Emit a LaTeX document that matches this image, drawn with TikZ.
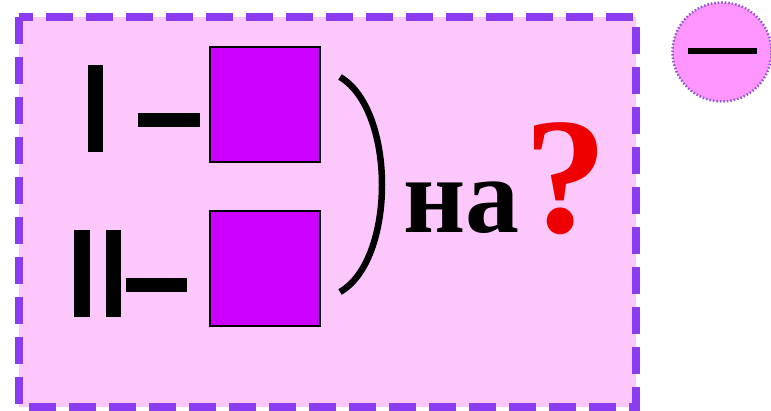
\documentclass[tikz,border=0pt]{standalone}
\usepackage{fontspec}
\setmainfont{Liberation Serif}
\definecolor{boxfill}{RGB}{252,200,252}
\definecolor{dashcol}{RGB}{140,60,240}
\definecolor{sqfill}{RGB}{204,0,255}
\definecolor{circfill}{RGB}{255,150,255}
\definecolor{circline}{RGB}{140,90,200}
\definecolor{qred}{RGB}{238,0,0}
\tikzset{
  sqbox/.style={draw=black,line width=2pt,fill=sqfill},
  bar/.style={fill=black},
}
\begin{document}
\begin{tikzpicture}[x=1pt,y=-1pt]
\useasboundingbox (0,0) rectangle (771,411);
% outer dashed frame
\draw[fill=boxfill,draw=dashcol,line width=8pt,dash pattern=on 27pt off 13pt] (19,17) rectangle (636,407);
% squares
\node[sqbox,minimum width=110pt,minimum height=115pt,inner sep=0pt,anchor=north west] (sq1) at (209,46) {};
\node[sqbox,minimum width=110pt,minimum height=115pt,inner sep=0pt,anchor=north west] (sq2) at (209,210) {};
% Roman I with dash
\fill[bar] (88,65) rectangle (103,152);
\fill[bar] (138,113) rectangle (200,127);
% Roman II with dash
\fill[bar] (74,230) rectangle (90,317);
\fill[bar] (106,230) rectangle (121,317);
\fill[bar] (126,278) rectangle (187,292);
% parenthesis
\coordinate (pa) at (340,77);
\coordinate (pb) at (340,292);
\draw[line width=6.5pt] (pa) .. controls (396,110) and (396,260) .. (pb);
% text
\node[anchor=base west,inner sep=0pt] (na) at (403,233) {\fontsize{108}{108}\selectfont\bfseries на};
\node[anchor=base west,inner sep=0pt,text=qred] (q) at (524,233) {\fontsize{166}{166}\selectfont\bfseries ?};
% minus circle
\node[circle,minimum size=99pt,inner sep=0pt,fill=circfill,draw=circline,line width=2.5pt,dash pattern=on 1.5pt off 2pt] (c) at (722,52) {};
\draw[line width=6pt] (688,51) -- (757,51);
\end{tikzpicture}
\end{document}
